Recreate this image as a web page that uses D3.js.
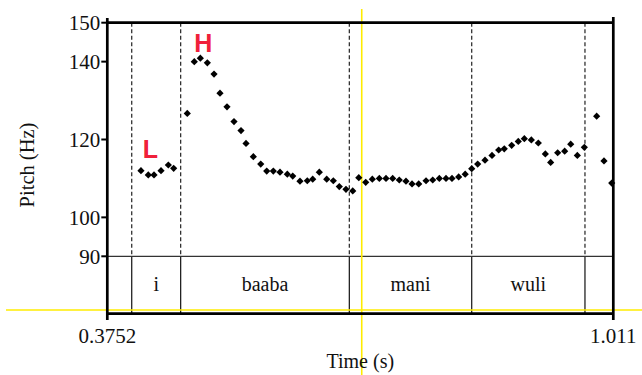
<!DOCTYPE html>
<html><head><meta charset="utf-8">
<script src="https://cdn.jsdelivr.net/npm/d3@7"></script>
<style>html,body{margin:0;padding:0;background:#fff;}svg{display:block;}</style>
</head><body>
<svg id="chart" width="642" height="375"></svg>
<script>
const timeRange = [0.3752, 1.011];
const pitchRange = [90, 150];
const yTicks = [90, 100, 120, 140, 150];
const xTickLabels = ["0.3752", "1.011"];
const times = [0.4175,0.4267,0.4339,0.4427,0.4519,0.4586,0.4757,0.4845,0.4921,0.5009,
0.5093,0.5168,0.5256,0.5344,0.5432,0.5495,0.5587,0.5680,0.5755,0.5838,
0.5922,0.6014,0.6082,0.6173,0.6265,0.6333,0.6416,0.6509,0.6592,0.6667,
0.6751,0.6836,0.6912,0.6999,0.7082,0.7170,0.7254,0.7338,0.7421,0.7505,
0.7581,0.7665,0.7757,0.7841,0.7924,0.8008,0.8083,0.8167,0.8249,0.8331,
0.8406,0.8498,0.8586,0.8670,0.8740,0.8833,0.8916,0.8992,0.9080,0.9168,
0.9256,0.9323,0.9411,0.9499,0.9575,0.9658,0.9746,0.9901,0.9993,1.0090];
const pitch = [112.0,110.9,110.9,112.0,113.45,112.6,126.7,140.0,140.9,139.7,
136.8,131.9,128.4,124.6,122.3,119.0,115.6,113.7,111.9,111.9,
111.6,111.1,110.6,109.3,109.4,109.8,111.6,109.8,109.4,107.9,
107.2,106.8,110.2,109.0,109.8,110.0,110.0,110.0,109.6,109.3,
108.6,108.6,109.4,109.6,110.0,110.0,110.0,110.4,111.1,112.5,
113.7,114.7,115.9,117.3,117.6,118.5,119.5,120.2,119.9,119.1,
116.3,114.1,116.6,117.0,118.8,115.9,118.0,126.0,114.5,108.8];
const boundaries = [0.4059, 0.4674, 0.6793, 0.8331, 0.9754];
const tierLabels = ["", "i", "baaba", "mani", "wuli", ""];
const toneLabels = ["L", "H"];
const toneTimes = [0.4295, 0.4958];
const toneHz = [115.25, 142.55];
const cursorTime = 0.6949;
const cursorHz = 76.2;

const svg = d3.select("#chart");
const L = 107.3, R = 613.3, T = 22.7, PB = 256.3, TB = 313.7;
const x = d3.scaleLinear().domain(timeRange).range([L, R]);
const y = d3.scaleLinear().domain(pitchRange).range([PB, T]);
const serif = "'Liberation Serif','Times New Roman',serif";

// tier boundaries: dashed in pitch area, solid in tier
svg.selectAll(".bd").data(boundaries).join("line")
  .attr("x1", d => x(d)).attr("x2", d => x(d))
  .attr("y1", T).attr("y2", PB)
  .attr("stroke", "#222").attr("stroke-width", 1.2).attr("stroke-dasharray", "4,2.5");
svg.selectAll(".bs").data(boundaries).join("line")
  .attr("x1", d => x(d)).attr("x2", d => x(d))
  .attr("y1", PB).attr("y2", TB)
  .attr("stroke", "#111").attr("stroke-width", 1.2);
// tier divider line
svg.append("line").attr("x1", L).attr("x2", R).attr("y1", y(90)).attr("y2", y(90))
  .attr("stroke", "#333").attr("stroke-width", 1.2);

// tier labels
const edges = [timeRange[0], ...boundaries, timeRange[1]];
svg.selectAll(".tl").data(tierLabels).join("text")
  .attr("x", (d, i) => (x(edges[i]) + x(edges[i + 1])) / 2)
  .attr("y", 291).attr("text-anchor", "middle")
  .attr("font-family", serif).attr("font-size", 20).attr("fill", "#111")
  .text(d => d);

// yellow cursor lines
svg.append("line").attr("x1", 6).attr("x2", 642).attr("y1", y(cursorHz)).attr("y2", y(cursorHz))
  .attr("stroke", "#ffec00").attr("stroke-width", 1.6);
svg.append("line").attr("x1", x(cursorTime)).attr("x2", x(cursorTime)).attr("y1", 9).attr("y2", 375)
  .attr("stroke", "#ffec00").attr("stroke-width", 1.6);

// frame
svg.append("line").attr("x1", L).attr("x2", R).attr("y1", T).attr("y2", T).attr("stroke", "#000").attr("stroke-width", 2.7);
svg.append("line").attr("x1", L).attr("x2", R).attr("y1", TB).attr("y2", TB).attr("stroke", "#000").attr("stroke-width", 2.7);
svg.append("line").attr("x1", L).attr("x2", L).attr("y1", 18).attr("y2", 320).attr("stroke", "#000").attr("stroke-width", 2.7);
svg.append("line").attr("x1", R).attr("x2", R).attr("y1", 17).attr("y2", 320).attr("stroke", "#000").attr("stroke-width", 2.7);

// y ticks
const yAxis = svg.append("g");
yAxis.selectAll("line").data(yTicks).join("line")
  .attr("x1", L - 6).attr("x2", L).attr("y1", d => y(d)).attr("y2", d => y(d))
  .attr("stroke", "#000").attr("stroke-width", 2);
yAxis.selectAll("text").data(yTicks).join("text")
  .attr("x", L - 7).attr("y", d => y(d) + 7.5).attr("text-anchor", "end")
  .attr("font-family", serif).attr("font-size", 21).attr("fill", "#111")
  .text(d => d);

// x tick labels
svg.selectAll(".xt").data(xTickLabels).join("text")
  .attr("x", (d, i) => x(timeRange[i])).attr("y", 342.5).attr("text-anchor", "middle")
  .attr("font-family", serif).attr("font-size", 21).attr("fill", "#111")
  .text(d => d);

// axis titles
svg.append("text").attr("x", (L + R) / 2).attr("y", 368).attr("text-anchor", "middle")
  .attr("font-family", serif).attr("font-size", 20).attr("fill", "#111").text("Time (s)");
svg.append("text").attr("transform", "translate(34,165) rotate(-90)").attr("text-anchor", "middle")
  .attr("font-family", serif).attr("font-size", 20.5).attr("fill", "#111").text("Pitch (Hz)");

// pitch points
const sym = d3.symbol().type(d3.symbolSquare).size(26);
svg.selectAll(".pt").data(times).join("path")
  .attr("d", sym)
  .attr("transform", (d, i) => `translate(${x(d)},${y(pitch[i])}) rotate(45)`)
  .attr("fill", "#000");

// tone labels
svg.selectAll(".tone").data(toneLabels).join("text")
  .attr("x", (d, i) => x(toneTimes[i])).attr("y", (d, i) => y(toneHz[i]))
  .attr("text-anchor", "middle")
  .attr("font-family", "'Liberation Sans',Arial,sans-serif").attr("font-weight", "bold")
  .attr("font-size", 25).attr("fill", "#f0203a")
  .text(d => d);
</script>
</body></html>
